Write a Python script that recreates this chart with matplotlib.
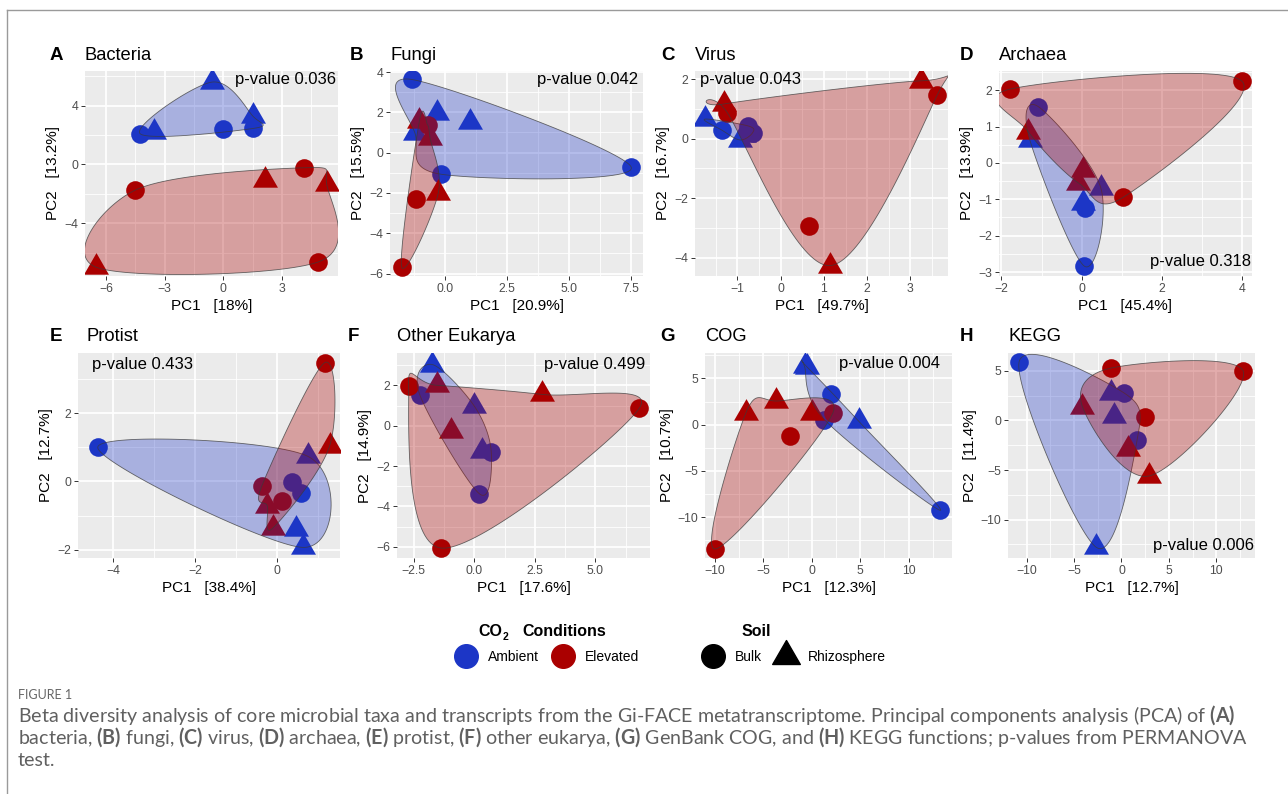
import numpy as np
import matplotlib
matplotlib.use("Agg")
import matplotlib.pyplot as plt
from matplotlib.lines import Line2D
from matplotlib.patches import Polygon
from matplotlib.path import Path
from matplotlib.ticker import MultipleLocator, FuncFormatter
from matplotlib.colors import to_rgba

plt.rcParams['font.family'] = ['Liberation Sans', 'DejaVu Sans']
plt.rcParams['mathtext.fontset'] = 'custom'
plt.rcParams['mathtext.rm'] = 'Lato'
plt.rcParams['mathtext.bf'] = 'Lato:bold'

W, H = 1288, 794

# sample order in every panel: 3 ambient bulk, 3 ambient rhizosphere,
# 3 elevated bulk, 3 elevated rhizosphere
co2 = ['Ambient'] * 6 + ['Elevated'] * 6
soil = (['Bulk'] * 3 + ['Rhizosphere'] * 3) * 2

bacteria_pc1 = [-4.26, 0.0, 1.53, -3.54, -0.6, 1.5, -4.5, 4.12, 4.86, -6.5, 2.13, 5.28]
bacteria_pc2 = [2.1, 2.4, 2.45, 2.2, 5.6, 3.3, -1.75, -0.23, -6.64, -7.0, -1.06, -1.34]
fungi_pc1 = [-1.34, -0.16, 7.5, -1.2, -0.31, 1.0, -0.7, -1.17, -1.74, -1.03, -0.6, -0.27]
fungi_pc2 = [3.63, -1.07, -0.73, 0.95, 1.98, 1.52, 1.38, -2.28, -5.67, 1.55, 0.75, -2.02]
virus_pc1 = [-1.36, -0.75, -0.65, -1.75, -0.94, -0.85, -1.23, 0.66, 3.62, -1.31, 1.15, 3.25]
virus_pc2 = [0.29, 0.43, 0.2, 0.66, -0.04, 0.12, 0.87, -2.94, 1.47, 1.17, -4.27, 1.95]
archaea_pc1 = [-1.08, 0.08, 0.07, -1.29, 0.48, 0.04, -1.79, 4.0, 1.03, -1.33, 0.03, -0.08]
archaea_pc2 = [1.55, -1.25, -2.84, 0.63, -0.69, -1.1, 2.03, 2.25, -0.95, 0.86, -0.19, -0.55]
protist_pc1 = [-4.37, 0.35, 0.59, 0.74, 0.46, 0.62, 1.16, -0.37, 0.11, 1.28, -0.24, -0.1]
protist_pc2 = [1.0, -0.03, -0.34, 0.74, -1.39, -1.93, 3.48, -0.12, -0.57, 1.05, -0.72, -1.36]
eukarya_pc1 = [-2.25, 0.7, 0.21, -1.74, 0.0, 0.32, -2.71, 6.81, -1.36, -1.54, 2.79, -0.96]
eukarya_pc2 = [1.53, -1.32, -3.37, 3.03, 0.97, -1.25, 1.98, 0.87, -6.06, 2.0, 1.55, -0.27]
cog_pc1 = [2.0, 1.31, 13.28, -0.75, 4.83, -0.45, -2.24, 2.17, -10.0, -6.8, -3.69, 0.07]
cog_pc2 = [3.32, 0.54, -9.28, 6.3, 0.39, 6.2, -1.19, 1.26, -13.47, 1.29, 2.56, 1.29]
kegg_pc1 = [-10.81, 0.28, 1.65, -1.06, -0.81, -2.64, -1.06, 12.85, 2.46, -4.12, 0.7, 2.92]
kegg_pc2 = [5.84, 2.75, -1.95, 2.79, 0.44, -12.8, 5.27, 4.93, 0.3, 1.38, -2.92, -5.6]

letters = ['A', 'B', 'C', 'D', 'E', 'F', 'G', 'H']
titles = ['Bacteria', 'Fungi', 'Virus', 'Archaea', 'Protist', 'Other Eukarya', 'COG', 'KEGG']
pc1_var = ['18%', '20.9%', '49.7%', '45.4%', '38.4%', '17.6%', '12.3%', '12.7%']
pc2_var = ['13.2%', '15.5%', '16.7%', '13.9%', '12.7%', '14.9%', '10.7%', '11.4%']
pvalues = ['0.036', '0.042', '0.043', '0.318', '0.433', '0.499', '0.004', '0.006']
pc1_all = [bacteria_pc1, fungi_pc1, virus_pc1, archaea_pc1, protist_pc1, eukarya_pc1, cog_pc1, kegg_pc1]
pc2_all = [bacteria_pc2, fungi_pc2, virus_pc2, archaea_pc2, protist_pc2, eukarya_pc2, cog_pc2, kegg_pc2]

# ---- layout (pixels) --------------------------------------------------
rects = [(85, 71, 338, 276), (390, 71, 643, 276), (695, 71, 948, 276), (999, 71, 1252, 276),
         (78, 353, 340, 558), (397, 353, 650, 558), (705, 353, 952, 558), (1008, 353, 1255, 558)]
xlims = [(-7.07, 5.86), (-2.21, 7.97), (-1.98, 3.87), (-2.06, 4.25),
         (-4.85, 1.53), (-3.19, 7.25), (-11.03, 14.48), (-11.97, 14.08)]
ylims = [(-7.6, 6.36), (-6.12, 4.05), (-4.62, 2.28), (-3.11, 2.53),
         (-2.24, 3.76), (-6.55, 3.6), (-14.44, 7.76), (-13.86, 6.78)]
xsteps = [3, 2.5, 1, 2, 2, 2.5, 5, 5]
ysteps = [4, 2, 2, 1, 2, 2, 5, 5]
decimals = [False, True, False, False, False, True, False, False]
letter_x = [50, 350, 661, 960, 50, 348, 660, 960]
title_x = [85, 390, 695, 999, 87, 397, 705, 1008]
pval_pos = [(0.992, 0.957, 'right'), (0.98, 0.957, 'right'), (0.02, 0.96, 'left'),
            (0.997, 0.07, 'right'), (0.053, 0.946, 'left'), (0.98, 0.946, 'right'),
            (0.951, 0.95, 'right'), (0.996, 0.063, 'right')]

colors = {'Ambient': '#1c36c6', 'Elevated': '#aa0000'}
tri = Path([(0, 1.1547), (-1, -0.57735), (1, -0.57735), (0, 1.1547)],
           [Path.MOVETO, Path.LINETO, Path.LINETO, Path.CLOSEPOLY])
markers = {'Bulk': 'o', 'Rhizosphere': tri}
sizes = {'Bulk': 180, 'Rhizosphere': 430}


def hull_order(P):
    idx = sorted(range(len(P)), key=lambda i: (P[i, 0], P[i, 1]))

    def cross(o, a, b):
        return (P[a, 0] - P[o, 0]) * (P[b, 1] - P[o, 1]) - (P[a, 1] - P[o, 1]) * (P[b, 0] - P[o, 0])
    lower, upper = [], []
    for i in idx:
        while len(lower) >= 2 and cross(lower[-2], lower[-1], i) <= 0:
            lower.pop()
        lower.append(i)
    for i in reversed(idx):
        while len(upper) >= 2 and cross(upper[-2], upper[-1], i) <= 0:
            upper.pop()
        upper.append(i)
    return lower[:-1] + upper[:-1]


def smooth_closed(Q, n=40):
    m = len(Q)
    t = np.linspace(0, 1, n, endpoint=False)[:, None]
    out = []
    for i in range(m):
        p0, p1, p2, p3 = Q[i - 1], Q[i], Q[(i + 1) % m], Q[(i + 2) % m]
        out.append(0.5 * (2 * p1 + (p2 - p0) * t + (2 * p0 - 5 * p1 + 4 * p2 - p3) * t ** 2
                          + (3 * p1 - p0 - 3 * p2 + p3) * t ** 3))
    return np.vstack(out)


def encircle(ax, xs, ys, color):
    P = ax.transData.transform(np.column_stack([xs, ys]))
    Q = P[hull_order(P)]
    curve = ax.transData.inverted().transform(smooth_closed(Q))
    ax.add_patch(Polygon(curve, closed=True, fc=to_rgba(color, 0.32),
                         ec=to_rgba('#3a3a3a', 0.75), lw=0.6, zorder=3))


def fmt(dec):
    def f(v, pos):
        if abs(v) < 1e-9:
            v = 0.0
        s = f'{v:.1f}' if dec else f'{v:g}'
        return s.replace('-', '\u2212')
    return FuncFormatter(f)


fig = plt.figure(figsize=(W / 100, H / 100), dpi=100)
renderer = fig.canvas.get_renderer()

for k in range(8):
    l, t, r, b = rects[k]
    ax = fig.add_axes([l / W, 1 - b / H, (r - l) / W, (b - t) / H])
    ax.set_facecolor('#ebebeb')
    for s in ax.spines.values():
        s.set_visible(False)
    ax.set_xlim(*xlims[k])
    ax.set_ylim(*ylims[k])
    ax.xaxis.set_major_locator(MultipleLocator(xsteps[k]))
    ax.yaxis.set_major_locator(MultipleLocator(ysteps[k]))
    ax.xaxis.set_minor_locator(MultipleLocator(xsteps[k] / 2))
    ax.yaxis.set_minor_locator(MultipleLocator(ysteps[k] / 2))
    ax.xaxis.set_major_formatter(fmt(decimals[k]))
    ax.yaxis.set_major_formatter(fmt(False))
    ax.grid(which='minor', color='white', lw=0.6)
    ax.grid(which='major', color='white', lw=1.25)
    ax.set_axisbelow(True)
    ax.tick_params(which='major', length=2.75, width=0.7, color='#333333',
                   labelsize=8.8, labelcolor='#4d4d4d', pad=2.2)
    ax.tick_params(which='minor', length=0)
    ax.set_xlabel(f'PC1   [{pc1_var[k]}]', fontsize=11, labelpad=2.75)
    ax.set_ylabel(f'PC2   [{pc2_var[k]}]', fontsize=11, labelpad=2.75)

    x = np.array(pc1_all[k])
    y = np.array(pc2_all[k])
    g = np.array(co2)
    sl = np.array(soil)
    for grp in ['Ambient', 'Elevated']:
        for so in ['Bulk', 'Rhizosphere']:
            m = (g == grp) & (sl == so)
            ax.scatter(x[m], y[m], s=sizes[so], marker=markers[so], c=colors[grp],
                       linewidths=0, zorder=2)
    for grp in ['Ambient', 'Elevated']:
        m = g == grp
        encircle(ax, x[m], y[m], colors[grp])

    px, py, ha = pval_pos[k]
    ax.text(px, py, f'p-value {pvalues[k]}', transform=ax.transAxes, ha=ha, va='center',
            fontsize=12, color='black', zorder=5)

    base = 60 if k < 4 else 341
    fig.text(letter_x[k] / W, 1 - base / H, letters[k], fontsize=13.5, weight='bold',
             va='baseline', ha='left')
    fig.text(title_x[k] / W, 1 - base / H, titles[k], fontsize=13.2,
             va='baseline', ha='left')

# ---- legends ------------------------------------------------------------
h_co2 = [Line2D([], [], ls='', marker='o', ms=17, color=colors['Ambient']),
         Line2D([], [], ls='', marker='o', ms=17, color=colors['Elevated'])]
fig.legend(h_co2, ['Ambient', 'Elevated'], loc='center left',
           bbox_to_anchor=(455 / W, 1 - 657 / H), ncol=2, frameon=False, fontsize=10,
           handlelength=1.6, handletextpad=0.8, columnspacing=0.9, borderpad=0,
           borderaxespad=0)
h_soil = [Line2D([], [], ls='', marker='o', ms=17, color='black'),
          Line2D([], [], ls='', marker=tri, ms=23, color='black')]
fig.legend(h_soil, ['Bulk', 'Rhizosphere'], loc='center left',
           bbox_to_anchor=(702 / W, 1 - 657 / H), ncol=2, frameon=False, fontsize=10,
           handlelength=1.6, handletextpad=0.8, columnspacing=0.9, borderpad=0,
           borderaxespad=0)
t_co = fig.text(478 / W, 1 - 636 / H, 'CO', fontsize=11.5, weight='bold', va='baseline')
co_end = t_co.get_window_extent(renderer=renderer).x1
fig.text((co_end + 1) / W, 1 - 640 / H, '2', fontsize=7.5, weight='bold', va='baseline')
fig.text(522 / W, 1 - 636 / H, 'Conditions', fontsize=11.5, weight='bold', va='baseline')
fig.text(742 / W, 1 - 636 / H, 'Soil', fontsize=11.5, weight='bold', va='baseline')

# ---- frame and caption --------------------------------------------------
fig.add_artist(Line2D([7 / W, 1], [1 - 10 / H, 1 - 10 / H], color='#9a9a9a', lw=1))
fig.add_artist(Line2D([7 / W, 7 / W], [1 - 10 / H, 0], color='#9a9a9a', lw=1))

cap_color = '#606060'
cap_x = 18
fig.text(cap_x / W, 1 - 699 / H, 'FIGURE 1', fontsize=9, color='#666666',
         family='Lato', va='baseline')
cap_lines = [
    r"Beta diversity analysis of core microbial taxa and transcripts from the Gi-FACE "
    r"metatranscriptome. Principal components analysis (PCA) of $\mathbf{(A)}$",
    r"bacteria, $\mathbf{(B)}$ fungi, $\mathbf{(C)}$ virus, $\mathbf{(D)}$ archaea, "
    r"$\mathbf{(E)}$ protist, $\mathbf{(F)}$ other eukarya, $\mathbf{(G)}$ GenBank COG, "
    r"and $\mathbf{(H)}$ KEGG functions; p-values from PERMANOVA",
    "test.",
]
cap_texts = []
for i, line in enumerate(cap_lines):
    cap_texts.append(fig.text(cap_x / W, 1 - (722 + 22 * i) / H, line, fontsize=12,
                              color=cap_color, family='Lato', va='baseline'))
w1 = cap_texts[0].get_window_extent(renderer=renderer).width
scale = (1233 - cap_x) / w1
for t in cap_texts:
    t.set_fontsize(12 * scale)

fig.savefig('out.png', dpi=100)
